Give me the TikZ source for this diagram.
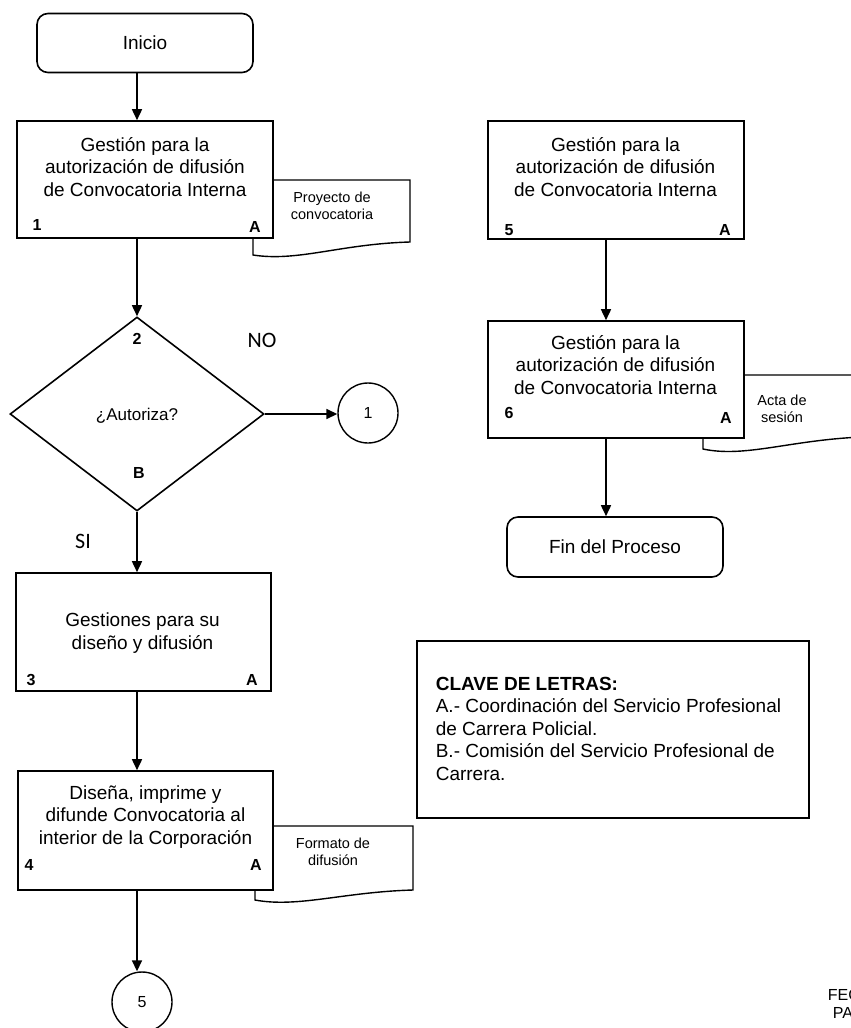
\documentclass[tikz,border=0pt]{standalone}
\usepackage{fontspec}
\setmainfont{Liberation Sans}
\newfontfamily\carlito{Carlito}
\usetikzlibrary{arrows.meta,shapes.geometric}
\begin{document}
\begin{tikzpicture}[x=1pt,y=-1pt,line width=1.6pt,
  proc/.style={draw,fill=white,inner sep=0,minimum width=256pt,minimum height=117pt},
  term/.style={draw,fill=white,rounded corners=11pt,inner sep=0,minimum width=216pt,minimum height=59pt,font=\fontsize{19}{22}\selectfont},
  conn/.style={draw,circle,fill=white,inner sep=0,minimum size=60pt,line width=1.4pt,font=\fontsize{16}{19}\selectfont},
  decision/.style={draw,diamond,fill=white,inner sep=0,minimum width=254pt,minimum height=194pt},
  main/.style={align=center,inner sep=0,font=\fontsize{19}{22.5}\selectfont},
  tag/.style={inner sep=0,font=\bfseries\fontsize{16}{19}\selectfont},
  doctxt/.style={align=center,inner sep=0,font=\fontsize{14.5}{17.5}\selectfont},
  branch/.style={inner sep=0,font=\carlito\fontsize{22}{26}\selectfont},
  docshape/.style={draw,fill=white,line width=1.4pt},
  arr/.style={-{Triangle[length=11pt,width=10pt]}}
]
\useasboundingbox (0,0) rectangle (851,1028);
\fill[white] (0,0) rectangle (851,1028);

\coordinate (colL) at (137,0);
\coordinate (colR) at (606,0);

% document symbols, drawn first so the process boxes overlap them
\draw[docshape] (253,180) -- (410,180) -- (410,242)
  .. controls (340,244) and (298,262) .. (253,255) -- cycle;
\draw[docshape] (255,826) -- (413,826) -- (413,890)
  .. controls (343,892) and (298,908) .. (255,900) -- cycle;
\draw[docshape] (703,375) -- (862,375) -- (862,437)
  .. controls (790,440) and (745,458) .. (703,449) -- cycle;
\node[doctxt] (doc1) at (332,206) {Proyecto de\\convocatoria};
\node[doctxt] (doc4) at (333,852) {Formato de\\difusión};
\node[doctxt] (doc6) at (782,409) {Acta de\\sesión};

% left column
\node[term] (ini) at (145,43) {Inicio};

\node[proc] (b1) at (145,179.5) {};
\node[main] at (145,167) {Gestión para la\\autorización de difusión\\de Convocatoria Interna};
\node[tag] at (37,225) {1};
\node[tag] at (255,227) {A};

\node[decision] (d) at (137,414) {};
\node[inner sep=0,font=\fontsize{17}{20}\selectfont] at (137,416) {¿Autoriza?};
\node[tag] at (137,339) {2};
\node[tag] at (139,473) {B};
\node[branch] (no) at (262,340) {NO};
\node[branch] (si) at (83,541) {SI};

\node[conn] (c1) at (368,413) {1};

\node[proc,minimum width=255pt,minimum height=118pt] (b3) at (143.5,632) {};
\node[main] at (142.5,633) {Gestiones para su\\diseño y difusión};
\node[tag] at (31,680) {3};
\node[tag] at (252,680) {A};

\node[proc,minimum width=255pt,minimum height=119pt] (b4) at (145.5,830.5) {};
\node[main] at (145.5,817) {Diseña, imprime y\\difunde Convocatoria al\\interior de la Corporación};
\node[tag] at (29,865) {4};
\node[tag] at (256,865) {A};

\node[conn] (c5) at (142,1002) {5};

% right column
\node[proc,minimum height=118pt] (b5) at (616,180) {};
\node[main] at (615.5,167) {Gestión para la\\autorización de difusión\\de Convocatoria Interna};
\node[tag] at (509,230) {5};
\node[tag] at (725,230) {A};

\node[proc] (b6) at (616,379.5) {};
\node[main] at (615.5,365) {Gestión para la\\autorización de difusión\\de Convocatoria Interna};
\node[tag] at (509,413) {6};
\node[tag] at (726,418) {A};

\node[term,minimum height=60pt] (fin) at (615,547) {Fin del Proceso};

% letter key
\node[draw,line width=1.4pt,inner sep=0,minimum width=392pt,minimum height=177pt] (key) at (613,729.5) {};
\node[anchor=north west,align=left,inner sep=0,font=\fontsize{19}{22.5}\selectfont] (keytxt) at (435,676)
  {\textbf{CLAVE DE LETRAS:}\\A.- Coordinación del Servicio Profesional\\de Carrera Policial.\\B.- Comisión del Servicio Profesional de\\Carrera.};

% page footer, running off the right edge
\node[anchor=west,inner sep=0,font=\fontsize{16}{19}\selectfont] (fecha) at (827,995) {FEC};
\node[anchor=west,inner sep=0,font=\fontsize{16}{19}\selectfont] (pag) at (832,1013) {PA};

% connectors
\draw[arr] (ini.south -| colL) -- (b1.north -| colL);
\draw[arr] (b1.south -| colL) -- (d.north);
\draw[arr] (d.east) -- (d.east -| c1.west);
\draw[arr] (d.south) -- (b3.north -| colL);
\draw[arr] (b3.south -| colL) -- (b4.north -| colL);
\draw[arr] (b4.south -| colL) -- (colL |- c5.north);
\draw[arr] (b5.south -| colR) -- (b6.north -| colR);
\draw[arr] (b6.south -| colR) -- (fin.north -| colR);
\end{tikzpicture}
\end{document}
